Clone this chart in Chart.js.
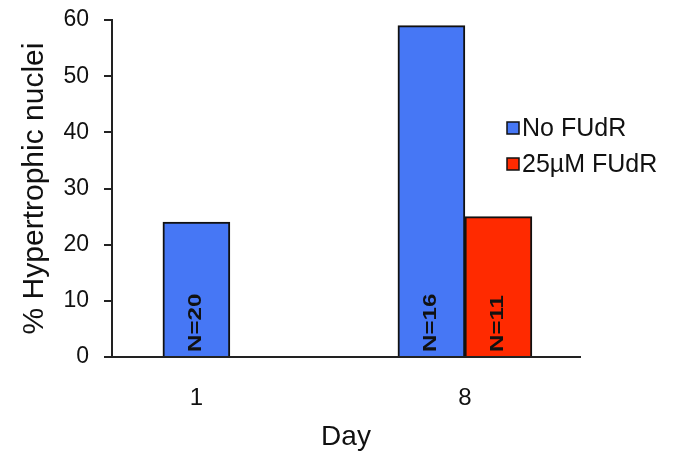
<!DOCTYPE html>
<html>
<head>
<meta charset="utf-8">
<script src="https://cdn.jsdelivr.net/npm/chart.js@4.4.1/dist/chart.umd.min.js"></script>
<style>
  html, body { margin: 0; padding: 0; background: #fff; }
  #wrap { width: 675px; height: 457px; position: relative; }
</style>
</head>
<body>
<div id="wrap"><canvas id="c"></canvas></div>
<script>
// ---- data ----
const days = [1, 8];
const seriesNames = ['No FUdR', '25\u00B5M FUdR'];
const noFudr = [24, 59];
const fudr25 = [null, 25];
const nNoFudr = ['N=20', 'N=16'];
const nFudr25 = [null, 'N=11'];
const yTicks = [0, 10, 20, 30, 40, 50, 60];
const yTitle = '% Hypertrophic nuclei';
const xTitle = 'Day';

const colors = ['#4677F5', '#FF2A00'];
const FONT = "'Liberation Sans', Arial, Helvetica, sans-serif";
const TEXT = '#111';

const nLabels = [nNoFudr, nFudr25];

const nLabelPlugin = {
  id: 'nLabels',
  afterDatasetsDraw(chart) {
    const ctx = chart.ctx;
    chart.data.datasets.forEach((ds, di) => {
      const meta = chart.getDatasetMeta(di);
      meta.data.forEach((bar, i) => {
        const txt = nLabels[di][i];
        if (txt == null) return;
        ctx.save();
        ctx.translate(bar.x, bar.base - 4);
        ctx.rotate(-Math.PI / 2);
        ctx.scale(1.34, 1);
        ctx.font = 'bold 18px ' + FONT;
        ctx.fillStyle = '#111';
        ctx.textAlign = 'left';
        ctx.textBaseline = 'middle';
        ctx.fillText(txt, 0, 0);
        ctx.restore();
      });
    });
  }
};

const legendPlugin = {
  id: 'customLegend',
  afterDraw(chart) {
    const ctx = chart.ctx;
    const x0 = 507, ys = [128, 164], box = 12;
    chart.data.datasets.forEach((ds, di) => {
      const y = ys[di];
      ctx.save();
      ctx.fillStyle = ds.backgroundColor;
      ctx.fillRect(x0, y - box / 2, box, box);
      ctx.lineWidth = 1.5;
      ctx.strokeStyle = '#111';
      ctx.strokeRect(x0, y - box / 2, box, box);
      ctx.font = '25px ' + FONT;
      ctx.fillStyle = TEXT;
      ctx.textAlign = 'left';
      ctx.textBaseline = 'middle';
      ctx.fillText(ds.label, x0 + box + 3, y + 1);
      ctx.restore();
    });
  }
};

const toPoints = (vals) => days.map((d, i) => ({ x: d, y: vals[i] }));

new Chart(document.getElementById('c'), {
  type: 'bar',
  data: {
    datasets: [
      { label: seriesNames[0], data: toPoints(noFudr), backgroundColor: colors[0] },
      { label: seriesNames[1], data: toPoints(fudr25), backgroundColor: colors[1] }
    ]
  },
  options: {
    responsive: true,
    maintainAspectRatio: false,
    animation: false,
    devicePixelRatio: 1,
    layout: { padding: { top: 20, right: 95, left: 0, bottom: 0 } },
    datasets: {
      bar: {
        barThickness: 67,
        skipNull: true,
        borderWidth: 2,
        borderColor: '#111',
        borderSkipped: 'start'
      }
    },
    plugins: {
      legend: { display: false },
      tooltip: { enabled: false }
    },
    scales: {
      x: {
        type: 'linear',
        min: -1.2,
        max: 11,
        offset: false,
        afterBuildTicks: (s) => { s.ticks = days.map(v => ({ value: v })); },
        afterFit: (s) => { s.height = 100; s.paddingLeft = 0; s.paddingRight = 0; },
        grid: { display: false, drawTicks: false, offset: false },
        border: { display: true, color: '#222', width: 2 },
        ticks: {
          autoSkip: false,
          maxRotation: 0,
          padding: 27,
          color: TEXT,
          font: { family: FONT, size: 24 },
          callback: (v) => String(v)
        },
        title: {
          display: true,
          text: xTitle,
          color: TEXT,
          font: { family: FONT, size: 28 },
          padding: { top: 0, bottom: 3 }
        }
      },
      y: {
        min: 0,
        max: 60,
        afterBuildTicks: (s) => { s.ticks = yTicks.map(v => ({ value: v })); },
        afterFit: (s) => { s.width = 112; s.paddingTop = 0; s.paddingBottom = 0; },
        grid: {
          display: true,
          drawOnChartArea: false,
          drawTicks: true,
          tickLength: 8,
          color: '#222',
          lineWidth: 2
        },
        border: { display: true, color: '#222', width: 2 },
        ticks: {
          padding: 15,
          color: TEXT,
          font: { family: FONT, size: 23 }
        },
        title: {
          display: true,
          text: yTitle,
          color: TEXT,
          font: { family: FONT, size: 30 },
          padding: { top: 17, bottom: 0 }
        }
      }
    }
  },
  plugins: [nLabelPlugin, legendPlugin]
});
</script>
</body>
</html>
